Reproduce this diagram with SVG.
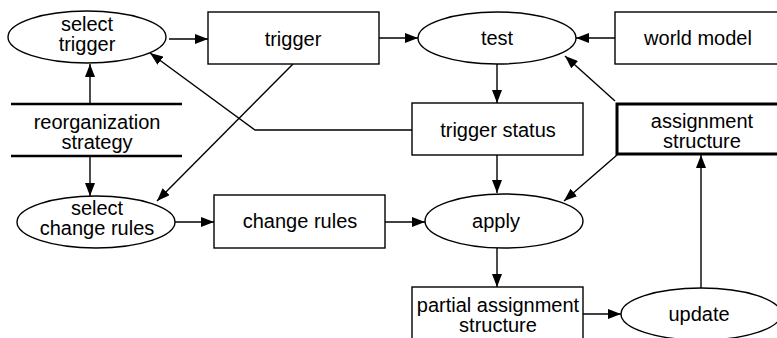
<svg xmlns="http://www.w3.org/2000/svg" width="777" height="338" viewBox="0 0 777 338">
<style>
.n{fill:#fff;stroke:#000;stroke-width:1.4}
.t{font-family:"Liberation Sans",Arial,sans-serif;font-size:20px;fill:#000;text-anchor:middle}
.c{fill:none;stroke:#000;stroke-width:1.4}
</style>
<defs>
<marker id="a" viewBox="0 0 13 10" refX="13" refY="5" markerWidth="13" markerHeight="10" markerUnits="userSpaceOnUse" orient="auto">
<path d="M0,0L13,5L0,10z" fill="#000"/>
</marker>
</defs>
<rect width="777" height="338" fill="#fff"/>
<g id="connectors">
<path class="c" d="M169,39H208" marker-end="url(#a)"/>
<path class="c" d="M379,38H418" marker-end="url(#a)"/>
<path class="c" d="M615,38H576" marker-end="url(#a)"/>
<path class="c" d="M497,64V103" marker-end="url(#a)"/>
<path class="c" d="M90,104V64" marker-end="url(#a)"/>
<path class="c" d="M90,156V196" marker-end="url(#a)"/>
<path class="c" d="M412,130H255L150,53" marker-end="url(#a)"/>
<path class="c" d="M293,64L157,201" marker-end="url(#a)"/>
<path class="c" d="M175,222H214" marker-end="url(#a)"/>
<path class="c" d="M385,222H425" marker-end="url(#a)"/>
<path class="c" d="M497,155V193" marker-end="url(#a)"/>
<path class="c" d="M617,155L564,201" marker-end="url(#a)"/>
<path class="c" d="M615,101L565,56" marker-end="url(#a)"/>
<path class="c" d="M497,248V287" marker-end="url(#a)"/>
<path class="c" d="M583,314H621" marker-end="url(#a)"/>
<path class="c" d="M701,288V155" marker-end="url(#a)"/>
</g>
<g id="select-trigger">
<ellipse class="n" cx="87" cy="37" rx="79" ry="26"/>
<text class="t" x="87" y="31">select<tspan x="87" dy="20">trigger</tspan></text>
</g>
<g id="trigger">
<rect class="n" x="208" y="12" width="171" height="52"/>
<text class="t" x="293" y="46">trigger</text>
</g>
<g id="test">
<ellipse class="n" cx="497" cy="38" rx="79" ry="26"/>
<text class="t" x="497" y="45">test</text>
</g>
<g id="world-model">
<rect class="n" x="615" y="12" width="170" height="52"/>
<text class="t" x="698" y="45">world model</text>
</g>
<g id="reorganization-strategy">
<line x1="11" y1="104" x2="182" y2="104" stroke="#000" stroke-width="2.5"/>
<line x1="11" y1="156" x2="182" y2="156" stroke="#000" stroke-width="2.5"/>
<text class="t" x="97" y="129">reorganization<tspan x="97" dy="20">strategy</tspan></text>
</g>
<g id="trigger-status">
<rect class="n" x="412" y="103" width="171" height="52"/>
<text class="t" x="498" y="137">trigger status</text>
</g>
<g id="assignment-structure">
<rect x="617" y="104" width="170" height="50" fill="#fff" stroke="#000" stroke-width="3"/>
<text class="t" x="702" y="128">assignment<tspan x="702" dy="20">structure</tspan></text>
</g>
<g id="select-change-rules">
<ellipse class="n" cx="96" cy="222" rx="79" ry="26"/>
<text class="t" x="97" y="215">select<tspan x="97" dy="20">change rules</tspan></text>
</g>
<g id="change-rules">
<rect class="n" x="214" y="195" width="171" height="53"/>
<text class="t" x="300" y="228">change rules</text>
</g>
<g id="apply">
<ellipse class="n" cx="504" cy="221" rx="79" ry="27"/>
<text class="t" x="496" y="228">apply</text>
</g>
<g id="partial-assignment-structure">
<rect class="n" x="412" y="287" width="171" height="60"/>
<text class="t" x="498" y="312">partial assignment<tspan x="498" dy="20">structure</tspan></text>
</g>
<g id="update">
<ellipse class="n" cx="701" cy="314" rx="80" ry="26"/>
<text class="t" x="699" y="321">update</text>
</g>
</svg>
